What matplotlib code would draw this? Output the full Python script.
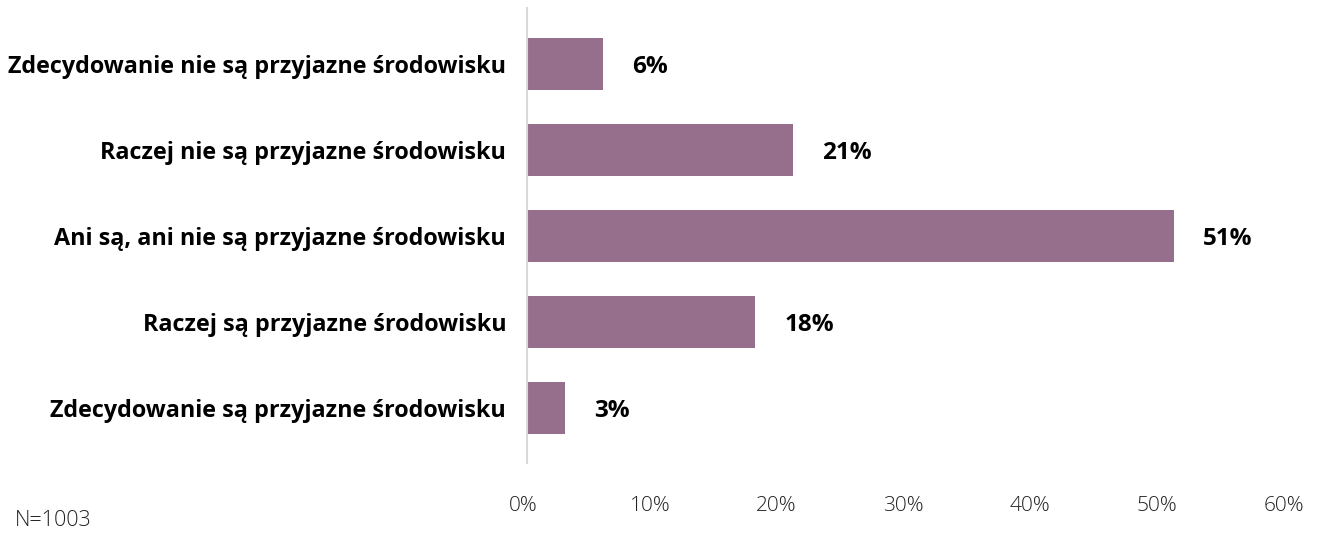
import matplotlib
matplotlib.use('Agg')
from matplotlib import pyplot as plt
from matplotlib.transforms import ScaledTranslation
import numpy as np

categories = [
    'Zdecydowanie nie są przyjazne środowisku',
    'Raczej nie są przyjazne środowisku',
    'Ani są, ani nie są przyjazne środowisku',
    'Raczej są przyjazne środowisku',
    'Zdecydowanie są przyjazne środowisku',
]
shares = [6, 21, 51, 18, 3]
x_ticks = [0, 10, 20, 30, 40, 50, 60]
sample_note = 'N=1003'

bar_color = '#966f8c'
plt.rcParams['font.family'] = ['Open Sans', 'DejaVu Sans']

fig = plt.figure(figsize=(13.19, 5.33), dpi=100)
ax = fig.add_axes([527 / 1319, 1 - 463 / 533, 761 / 1319, 455 / 533])

y = np.arange(len(categories))
ax.barh(y, shares, height=0.61, color=bar_color)

for yi, v in zip(y, shares):
    ax.annotate(f'{v}%', (v, yi), xytext=(21, -2), textcoords='offset points',
                ha='left', va='center', fontsize=17.5, fontweight='bold', color='black')

ax.set_xlim(0, 60)
ax.set_ylim(4.64, -0.653)
ax.set_yticks(y)
ax.set_yticklabels(categories, fontsize=16.8, fontweight='bold')
ax.set_xticks(x_ticks)
ax.set_xticklabels([f'{t}%' for t in x_ticks], fontsize=15, fontweight='light', color='#222222')
ax.tick_params(axis='both', length=0)
ax.tick_params(axis='y', pad=15)
ax.tick_params(axis='x', pad=24)
# nudge the percentage tick labels slightly left
shift = ScaledTranslation(-4 / 100, 0, fig.dpi_scale_trans)
for lab in ax.get_xticklabels():
    lab.set_transform(lab.get_transform() + shift)

for side in ['top', 'right', 'bottom']:
    ax.spines[side].set_visible(False)
ax.spines['left'].set_color('#d9d9d9')
ax.spines['left'].set_linewidth(1.5)

fig.text(15 / 1319, 1 - 521 / 533, sample_note, fontsize=15.5, fontweight='light',
         color='#222222', ha='left', va='center')

fig.savefig('out.png', dpi=100)
